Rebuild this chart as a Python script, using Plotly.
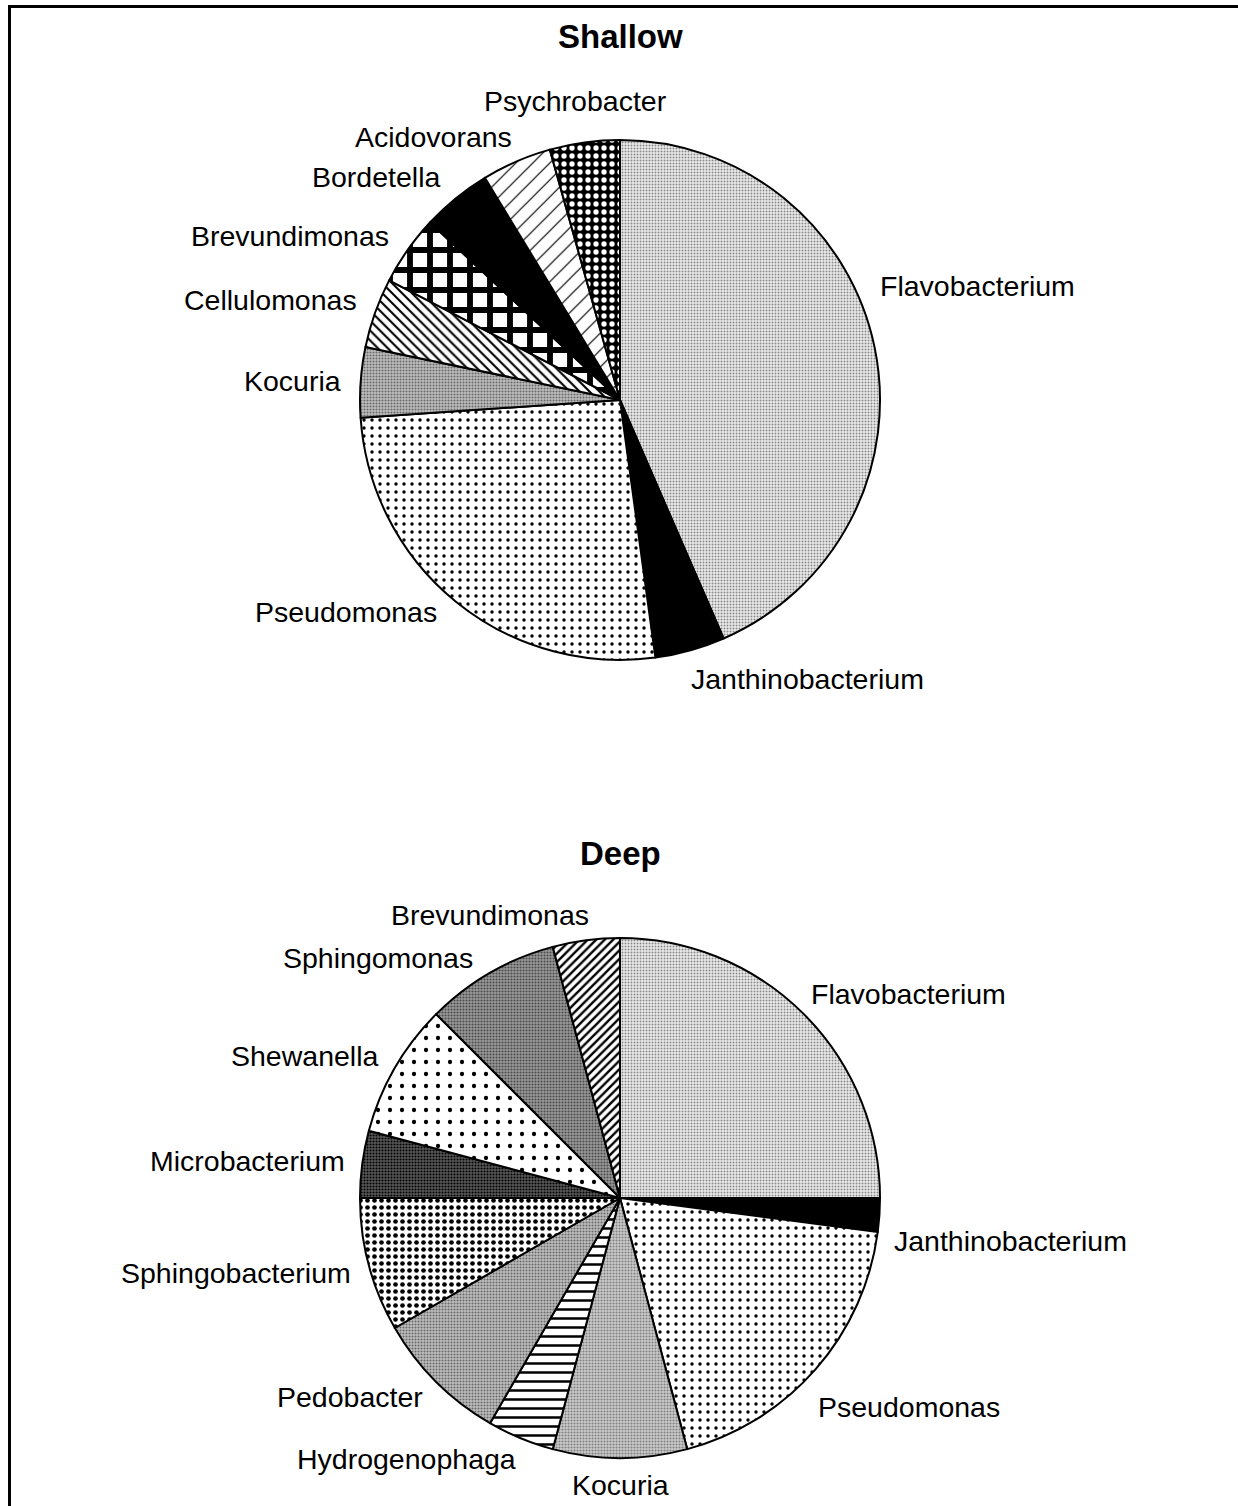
import plotly.graph_objects as go

W, H = 1238, 1506

# ---------------- data ----------------
shallow_labels = ["Flavobacterium", "Janthinobacterium", "Pseudomonas", "Kocuria",
                  "Cellulomonas", "Brevundimonas", "Bordetella", "Acidovorans", "Psychrobacter"]
shallow_values = [10, 1, 6, 1, 1, 1, 1, 1, 1]

deep_labels = ["Flavobacterium", "Janthinobacterium", "Pseudomonas", "Kocuria",
               "Hydrogenophaga", "Pedobacter", "Sphingobacterium", "Microbacterium",
               "Shewanella", "Sphingomonas", "Brevundimonas"]
deep_values = [12, 1, 9, 4, 2, 4, 4, 2, 4, 4, 2]

# ---------------- styles ----------------
# (marker colour, pattern shape, fg, bg, size, solidity)
STY = {
    "lightgray": ("#e0e0e0", ".", "#8a8a8a", "#ececec", 3, 0.35),
    "black": ("#000000", "", None, None, 8, 0.3),
    "dots": ("#ffffff", ".", "#000000", "#ffffff", 8, 0.14),
    "midgray": ("#a8a8a8", ".", "#6a6a6a", "#c0c0c0", 3, 0.4),
    "gray2": ("#b8b8b8", ".", "#808080", "#cccccc", 3, 0.4),
    "bslash": ("#ffffff", "\\", "#000000", "#ffffff", 7, 0.3),
    "checker": ("#ffffff", "+", "#000000", "#ffffff", 20, 0.5),
    "dash": ("#ffffff", "/", "#000000", "#ffffff", 12, 0.1),
    "wdots": ("#000000", ".", "#ffffff", "#000000", 8, 0.35),
    "hlines": ("#ffffff", "-", "#000000", "#ffffff", 9, 0.28),
    "sqdots": ("#ffffff", ".", "#000000", "#ffffff", 7, 0.35),
    "darkgray": ("#3c3c3c", ".", "#000000", "#5a5a5a", 3, 0.4),
    "sparse": ("#ffffff", ".", "#000000", "#ffffff", 12, 0.1),
    "dgray": ("#808080", ".", "#4a4a4a", "#9a9a9a", 3, 0.4),
    "fslash": ("#ffffff", "/", "#000000", "#ffffff", 6, 0.4),
}

shallow_styles = ["lightgray", "black", "dots", "midgray", "bslash", "checker",
                  "black", "dash", "wdots"]
deep_styles = ["lightgray", "black", "dots", "gray2", "hlines", "midgray",
               "sqdots", "darkgray", "sparse", "dgray", "fslash"]


def marker_for(styles):
    cols = [STY[s][0] for s in styles]
    shapes = [STY[s][1] for s in styles]
    fg = [STY[s][2] or STY[s][0] for s in styles]
    bg = [STY[s][3] or STY[s][0] for s in styles]
    size = [STY[s][4] for s in styles]
    sol = [STY[s][5] for s in styles]
    return dict(colors=cols,
                line=dict(color="black", width=2),
                pattern=dict(shape=shapes, fgcolor=fg, bgcolor=bg,
                             size=size, solidity=sol, fillmode="replace"))


def px_dom(x0, x1, y0, y1):
    return dict(x=[x0 / W, x1 / W], y=[1 - y1 / H, 1 - y0 / H])


fig = go.Figure()
fig.add_trace(go.Pie(labels=shallow_labels, values=shallow_values, sort=False,
                     direction="clockwise", rotation=0, textinfo="none",
                     hoverinfo="label+value", marker=marker_for(shallow_styles),
                     domain=px_dom(360, 880, 140, 660), showlegend=False))
fig.add_trace(go.Pie(labels=deep_labels, values=deep_values, sort=False,
                     direction="clockwise", rotation=0, textinfo="none",
                     hoverinfo="label+value", marker=marker_for(deep_styles),
                     domain=px_dom(360, 880, 938, 1458), showlegend=False))

# label placement (pixel centres)
shallow_label_pos = [(977, 286), (807, 679), (346, 612), (292, 381), (270, 300),
                     (290, 236), (376, 177), (433, 137), (575, 101)]
deep_label_pos = [(908, 994), (1010, 1241), (909, 1407), (620, 1485), (406, 1459),
                  (350, 1397), (236, 1273), (247, 1161), (305, 1056), (378, 958),
                  (490, 915)]

FONT = "Liberation Sans, Arial, sans-serif"
annots = []
for lab, (x, y) in list(zip(shallow_labels, shallow_label_pos)) + list(zip(deep_labels, deep_label_pos)):
    annots.append(dict(text=lab, x=x / W, y=1 - y / H, xref="paper", yref="paper",
                       xanchor="center", yanchor="middle", showarrow=False,
                       font=dict(family=FONT, size=28.5, color="black")))
for t, (x, y) in [("Shallow", (620, 37)), ("Deep", (620, 853))]:
    annots.append(dict(text="<b>" + t + "</b>", x=x / W, y=1 - y / H, xref="paper",
                       yref="paper", xanchor="center", yanchor="middle", showarrow=False,
                       font=dict(family=FONT, size=33, color="black")))

shapes = [
    dict(type="line", xref="paper", yref="paper", x0=8 / W, x1=1, y0=1 - 6.5 / H, y1=1 - 6.5 / H,
         line=dict(color="black", width=3)),
    dict(type="line", xref="paper", yref="paper", x0=9.5 / W, x1=9.5 / W, y0=0, y1=1 - 5 / H,
         line=dict(color="black", width=3)),
]

fig.update_layout(width=W, height=H, margin=dict(l=0, r=0, t=0, b=0),
                  paper_bgcolor="white", plot_bgcolor="white",
                  annotations=annots, shapes=shapes)

fig.write_html("out.html", config={"displayModeBar": False},
               post_script="document.body.style.margin='0px';document.body.style.overflow='hidden';")
